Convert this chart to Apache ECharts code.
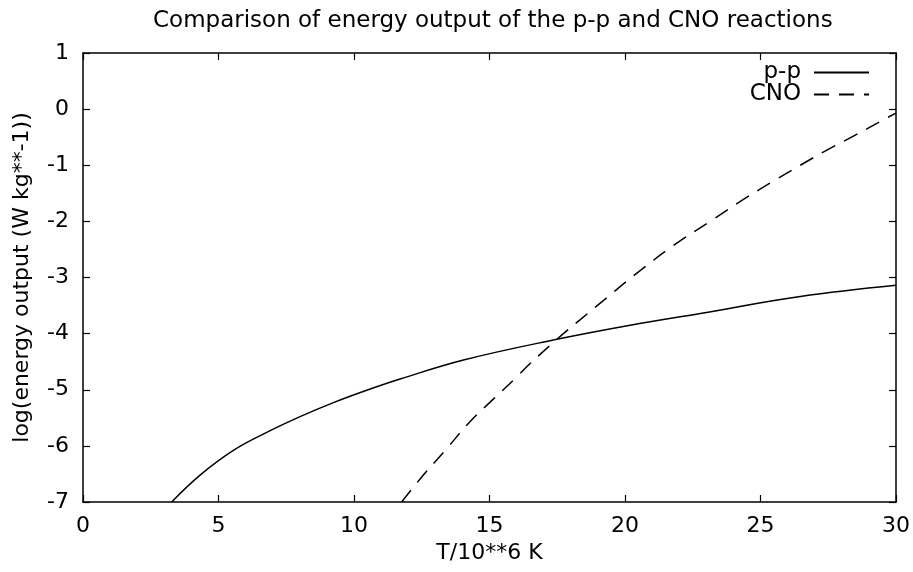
<!DOCTYPE html>
<html><head><meta charset="utf-8">
<script src="https://cdn.jsdelivr.net/npm/echarts@6/dist/echarts.min.js"></script>
<style>html,body{margin:0;padding:0;background:#fff}#c{width:913px;height:572px}</style>
</head><body><div id="c"></div>
<script>
const titleText = 'Comparison of energy output of the p-p and CNO reactions';
const xName = 'T/10**6 K';
const yName = 'log(energy output (W kg**-1))';
const ppT   = [3.27, 4.32, 5.55, 6.78, 8.01, 9.24, 10.47, 11.70, 14.04, 17.49, 20.19, 22.78, 26.47, 30.0];
const ppV   = [-7.0, -6.52, -6.08, -5.76, -5.48, -5.23, -5.01, -4.81, -4.47, -4.10, -3.85, -3.64, -3.34, -3.14];
const cnoT  = [11.76, 12.56, 13.42, 14.22, 15.09, 16.01, 16.44, 17.49, 18.35, 19.33, 20.31, 21.79, 23.27, 24.37, 25.48, 26.47, 27.45, 28.43, 29.42, 30.0];
const cnoV  = [-7.0, -6.52, -6.05, -5.60, -5.19, -4.77, -4.56, -4.10, -3.75, -3.36, -2.97, -2.43, -1.96, -1.61, -1.28, -1.0, -0.73, -0.48, -0.22, -0.07];

const font = 'DejaVu Sans, sans-serif';
const fs = 22;
const chart = echarts.init(document.getElementById('c'), null, {renderer: 'canvas'});
const pair = (xs, ys) => xs.map((x, i) => [x, ys[i]]);
const axisCommon = {
  axisLine: {show: true, onZero: false, lineStyle: {color: '#000', width: 1.5}},
  axisTick: {show: true, inside: true, length: 7, lineStyle: {color: '#000', width: 1.2}},
  splitLine: {show: false}
};
const legendText = {fontFamily: font, fontSize: 23, color: '#000', padding: [0, 8, 0, 0]};
chart.setOption({
  animation: false,
  backgroundColor: '#fff',
  title: {text: titleText, left: 148, top: 5,
    textStyle: {fontFamily: font, fontSize: 23, fontWeight: 'normal', color: '#000'}},
  grid: {left: 83, right: 17, top: 53, bottom: 70, containLabel: false},
  legend: [
    {data: ['p-p'], orient: 'vertical', right: 38, top: 56, align: 'right', itemWidth: 55, itemHeight: 14,
     itemGap: 0, itemStyle: {opacity: 0}, textStyle: legendText},
    {data: ['CNO'], orient: 'vertical', right: 38, top: 78, align: 'right', itemWidth: 55, itemHeight: 14,
     itemGap: 0, itemStyle: {opacity: 0}, textStyle: legendText}
  ],
  xAxis: [
    Object.assign({type: 'value', min: 0, max: 30, interval: 5, position: 'bottom',
      name: xName, nameLocation: 'middle', nameGap: 40,
      nameTextStyle: {fontFamily: font, fontSize: fs, color: '#000'},
      axisLabel: {fontFamily: font, fontSize: fs, color: '#000', margin: 13}}, axisCommon),
    Object.assign({type: 'value', min: 0, max: 30, interval: 5, position: 'top',
      axisLabel: {show: false}}, axisCommon)
  ],
  yAxis: [
    Object.assign({type: 'value', min: -7, max: 1, interval: 1, position: 'left',
      name: yName, nameLocation: 'middle', nameGap: 50, nameRotate: 90,
      nameTextStyle: {fontFamily: font, fontSize: fs, color: '#000'},
      axisLabel: {fontFamily: font, fontSize: fs, color: '#000', margin: 14}}, axisCommon),
    Object.assign({type: 'value', min: -7, max: 1, interval: 1, position: 'right',
      axisLabel: {show: false}}, axisCommon)
  ],
  series: [
    {name: 'p-p', type: 'line', data: pair(ppT, ppV), smooth: 0.4, symbol: 'none', showSymbol: false,
     lineStyle: {color: '#000', width: 1.5, type: 'solid'}, itemStyle: {color: '#000'}, clip: true},
    {name: 'CNO', type: 'line', data: pair(cnoT, cnoV), smooth: 0.4, symbol: 'none', showSymbol: false,
     lineStyle: {color: '#000', width: 1.5, type: [15, 10]}, itemStyle: {color: '#000'}, clip: true}
  ]
});
</script></body></html>
